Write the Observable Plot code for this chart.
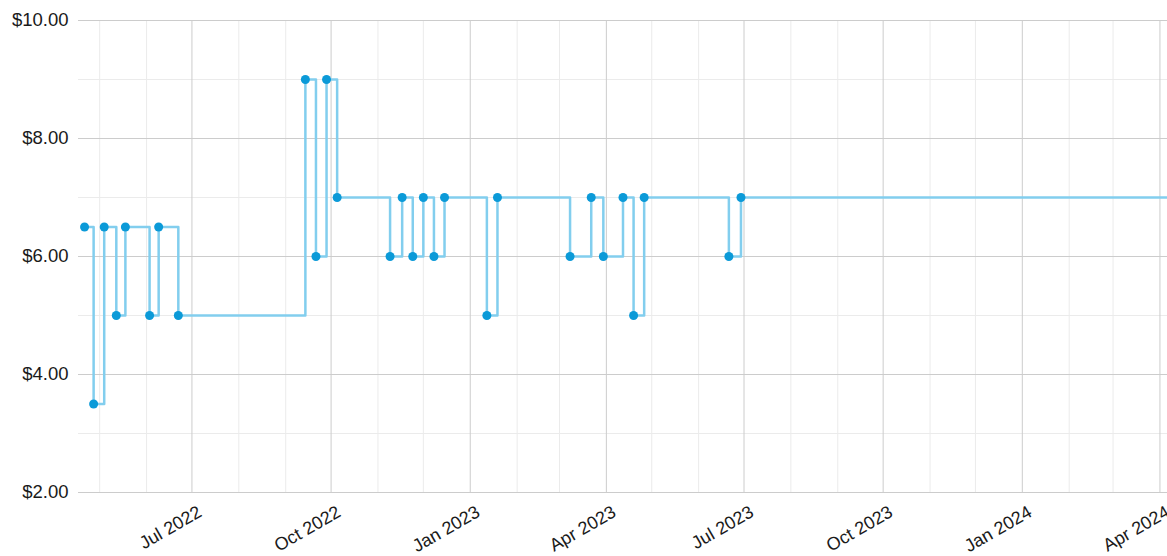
<!DOCTYPE html>
<html>
<head>
<meta charset="utf-8">
<script src="https://cdn.jsdelivr.net/npm/d3@7"></script>
<script src="https://cdn.jsdelivr.net/npm/@observablehq/plot@0.6"></script>
<style>
  html, body { margin: 0; padding: 0; background: #fff; overflow: hidden; }
  #chart svg { display: block; }
</style>
</head>
<body>
<div id="chart"></div>
<script>
// Price history (weekly observations)
const dates = [
  "2022-04-21","2022-04-27","2022-05-04","2022-05-12","2022-05-18","2022-06-03","2022-06-09","2022-06-22",
  "2022-09-14","2022-09-21","2022-09-28","2022-10-05",
  "2022-11-09","2022-11-17","2022-11-24","2022-12-01","2022-12-08","2022-12-15",
  "2023-01-12","2023-01-19",
  "2023-03-08","2023-03-22","2023-03-30","2023-04-12","2023-04-19","2023-04-26",
  "2023-06-21","2023-06-29"
];
const prices = [
  6.5, 3.5, 6.5, 5, 6.5, 5, 6.5, 5,
  9, 6, 9, 7,
  6, 7, 6, 7, 6, 7,
  5, 7,
  6, 7, 6, 7, 5, 7,
  6, 7
];
// The last price carries on to the end of the chart
const endDate = "2024-04-06";
const startDate = "2022-04-17";

// Axis ticks
const xMajorTicks = ["2022-07-01","2022-10-01","2023-01-01","2023-04-01","2023-07-01","2023-10-01","2024-01-01","2024-04-01"];
const yMajorTicks = [2, 4, 6, 8, 10];
const yMinorTicks = [3, 5, 7, 9];

const parse = s => new Date(s + "T00:00:00Z");
const points = dates.map((d, i) => ({date: parse(d), price: prices[i]}));
const linePoints = [...points, {date: parse(endDate), price: prices[prices.length - 1]}];
const xMajor = xMajorTicks.map(parse);
const xMinor = d3.utcMonth.range(parse("2022-05-01"), parse(endDate)).filter(d => d.getUTCMonth() % 3 !== 0);

const chart = Plot.plot({
  width: 1167,
  height: 556,
  marginTop: 20,
  marginBottom: 64,
  marginLeft: 78,
  marginRight: 0,
  style: {fontFamily: "Arial, 'Liberation Sans', sans-serif", background: "#fff", overflow: "visible"},
  x: {type: "utc", domain: [parse(startDate), parse(endDate)]},
  y: {domain: [2, 10]},
  marks: [
    Plot.ruleX(xMinor, {stroke: "#ebebeb", strokeWidth: 1}),
    Plot.ruleY(yMinorTicks, {stroke: "#ebebeb", strokeWidth: 1}),
    Plot.ruleX(xMajor, {stroke: "#cccccc", strokeWidth: 1}),
    Plot.ruleY(yMajorTicks, {stroke: "#cccccc", strokeWidth: 1}),
    Plot.axisY({
      ticks: yMajorTicks,
      tickSize: 0,
      tickPadding: 10,
      tickFormat: d => "$" + d.toFixed(2),
      fontSize: 18.5,
      fill: "#1a1a1a",
      label: null
    }),
    Plot.axisX({
      ticks: xMajor,
      tickSize: 0,
      tickPadding: 12,
      tickRotate: -30,
      tickFormat: d3.utcFormat("%b %Y"),
      fontSize: 18,
      fill: "#1a1a1a",
      dx: 8,
      dy: 6,
      label: null
    }),
    Plot.line(linePoints, {x: "date", y: "price", curve: "step-after", stroke: "#82ceee", strokeWidth: 2.5}),
    Plot.dot(points, {x: "date", y: "price", r: 4.5, fill: "#0b9ad8", stroke: "none"})
  ]
});
document.getElementById("chart").append(chart);
</script>
</body>
</html>
